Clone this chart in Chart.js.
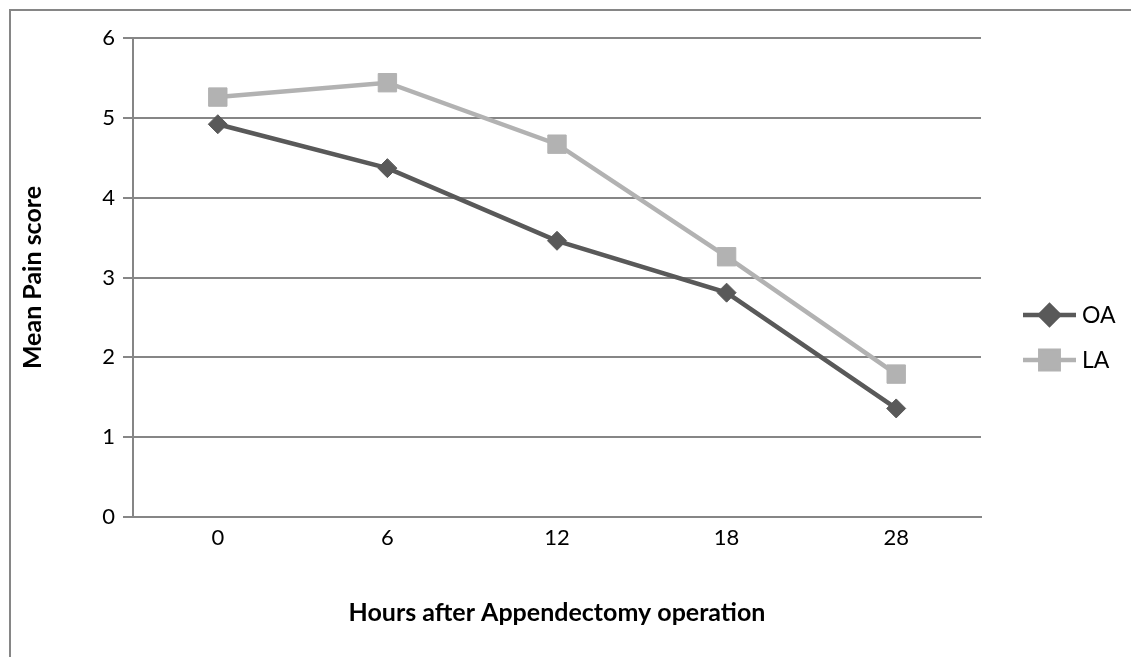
<!DOCTYPE html>
<html>
<head>
<meta charset="utf-8">
<script src="https://cdn.jsdelivr.net/npm/chart.js@4/dist/chart.umd.min.js"></script>
<style>
  html, body { margin: 0; padding: 0; background: #fff; }
  #wrap { position: relative; width: 1131px; height: 657px; }
  #frame { position: absolute; left: 9px; top: 9px; right: -10px; bottom: -10px; border: 2px solid #868686; }
</style>
</head>
<body>
<div id="wrap">
  <div id="frame"></div>
  <canvas id="chart" width="1131" height="657"></canvas>
</div>
<script>
'use strict';

// Hours after operation (category axis)
var hours = ['0', '6', '12', '18', '28'];

// Mean pain score per group
var oaScores = [4.92, 4.37, 3.46, 2.81, 1.36];
var laScores = [5.26, 5.44, 4.67, 3.26, 1.79];

var seriesNames = ['OA', 'LA'];
var yTicks = [0, 1, 2, 3, 4, 5, 6];

var FONT = 'Lato, "Noto Sans", sans-serif';
var GRID = '#868686';

// Draws an Excel style legend (line + marker) to the right of the plot
var sideLegend = {
    id: 'sideLegend',
    afterDraw: function (chart) {
        var ctx = chart.ctx;
        var x0 = 1023, x1 = 1076;
        var rowY = [315, 360];
        ctx.save();
        chart.data.datasets.forEach(function (ds, i) {
            var y = rowY[i];
            ctx.strokeStyle = ds.borderColor;
            ctx.lineWidth = ds.borderWidth;
            ctx.beginPath();
            ctx.moveTo(x0, y);
            ctx.lineTo(x1, y);
            ctx.stroke();
            Chart.helpers.drawPoint(ctx, {
                pointStyle: ds.pointStyle,
                radius: ds.pointRadius,
                borderWidth: ds.pointBorderWidth
            }, (x0 + x1) / 2, y);
            ctx.fillStyle = ds.pointBackgroundColor;
            ctx.fill();
            ctx.fillStyle = '#000';
            ctx.font = '23px ' + FONT;
            ctx.textBaseline = 'middle';
            ctx.textAlign = 'left';
            ctx.fillText(ds.label, x1 + 6, y + 1);
        });
        ctx.restore();
    }
};

var ctx = document.getElementById('chart').getContext('2d');
new Chart(ctx, {
    type: 'line',
    data: {
        labels: hours,
        datasets: [{
            label: seriesNames[0],
            data: oaScores,
            borderColor: '#595959',
            backgroundColor: '#595959',
            pointBackgroundColor: '#595959',
            pointBorderColor: '#595959',
            borderWidth: 4.5,
            pointStyle: 'rectRot',
            pointRadius: 9.5,
            pointBorderWidth: 1,
            tension: 0
        }, {
            label: seriesNames[1],
            data: laScores,
            borderColor: '#b2b2b2',
            backgroundColor: '#b2b2b2',
            pointBackgroundColor: '#b2b2b2',
            pointBorderColor: '#b2b2b2',
            borderWidth: 4.5,
            pointStyle: 'rect',
            pointRadius: 13,
            pointBorderWidth: 1,
            tension: 0
        }]
    },
    options: {
        responsive: false,
        animation: false,
        layout: { padding: { left: 0, top: 38, right: 150, bottom: 0 } },
        plugins: {
            legend: { display: false },
            tooltip: { enabled: false }
        },
        scales: {
            x: {
                offset: true,
                grid: { display: false, drawTicks: false },
                border: { display: true, color: GRID, width: 2 },
                ticks: { color: '#000', padding: 8, font: { family: FONT, size: 22 } },
                title: {
                    display: true,
                    text: 'Hours after Appendectomy operation',
                    color: '#000',
                    font: { family: FONT, size: 25, weight: 'bold' },
                    padding: { top: 0, bottom: 29 }
                },
                afterFit: function (scale) { scale.height = 140; }
            },
            y: {
                min: 0,
                max: 6,
                afterBuildTicks: function (scale) {
                    scale.ticks = yTicks.map(function (v) { return { value: v }; });
                },
                grid: { color: GRID, lineWidth: 2, tickLength: 10, drawTicks: true },
                border: { display: true, color: GRID, width: 2 },
                ticks: { color: '#000', padding: 8, font: { family: FONT, size: 22 } },
                title: {
                    display: true,
                    text: 'Mean Pain score',
                    color: '#000',
                    font: { family: FONT, size: 25, weight: 'bold' },
                    padding: { top: 18, bottom: 0 }
                },
                afterFit: function (scale) { scale.width = 133; }
            }
        }
    },
    plugins: [sideLegend]
});
</script>
</body>
</html>
